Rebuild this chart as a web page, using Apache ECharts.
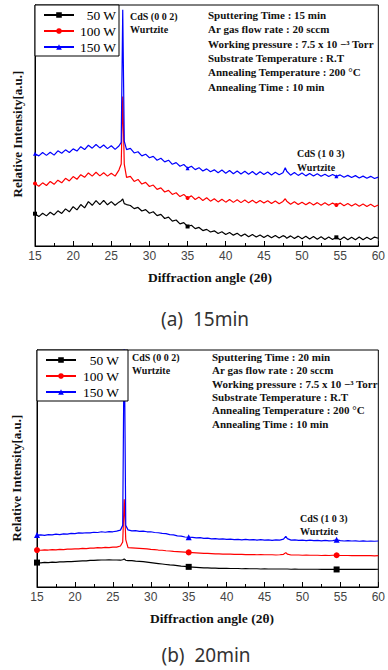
<!DOCTYPE html>
<html><head><meta charset="utf-8">
<script src="https://cdn.jsdelivr.net/npm/echarts@6/dist/echarts.min.js"></script>
<style>html,body{margin:0;padding:0;background:#fff}#c{width:388px;height:670px}</style>
</head><body><div id="c"></div>
<script>
// Diffraction angles (2θ)
const angles = [15,15.5,16,16.5,17,17.5,18,18.5,19,19.5,20,20.5,21,21.5,22,22.5,23,23.5,24,24.5,25,25.5,26,
  26.3,26.5,26.7,
  27,27.5,28,28.5,29,29.5,30,30.5,31,31.5,32,32.5,33,33.5,34,34.5,35,35.5,36,36.5,37,37.5,38,38.5,39,39.5,40,40.5,41,41.5,42,42.5,43,43.5,44,44.5,45,45.5,46,46.5,47,47.5,
  47.8,
  48,48.5,49,49.5,50,50.5,51,51.5,52,52.5,53,53.5,54,54.5,55,55.5,56,56.5,57,57.5,58,58.5,59,59.5,60];

// (a) 15 min — relative intensity (a.u.)
const a15_50W = [13.4,12.2,13.6,12.5,14.0,12.9,14.6,13.5,15.4,14.2,16.3,15.0,17.2,15.8,18.4,16.9,18.8,17.2,18.9,17.1,18.4,16.9,18.2,
  18.8,19.5,17.6,
  17.2,16.8,15.5,16.0,14.5,15.1,13.6,14.2,12.6,13.1,11.4,12.0,10.3,10.8,9.2,9.7,8.1,8.6,7.2,7.7,6.4,6.9,5.8,6.3,5.2,5.9,4.8,5.6,4.5,5.3,4.1,5.0,3.8,4.8,3.7,4.6,3.5,4.5,3.4,4.4,3.3,4.3,
  3.9,
  3.2,4.2,3.1,4.1,3.0,4.0,2.9,3.9,2.8,3.8,2.7,3.7,2.7,3.6,2.6,3.7,2.6,3.6,2.6,3.7,2.6,3.6,2.7,3.7,3.2];
const a15_100W = [25.9,24.8,26.2,25.1,26.8,25.6,27.3,26.2,28.1,27.0,28.8,27.7,29.6,28.5,30.3,29.0,30.6,29.1,30.4,29.0,30.2,29.0,31.5,
  34,62,34,
  28.5,28.9,26.8,27.6,25.7,26.4,24.7,25.3,23.5,24.1,22.4,23.1,21.4,22.1,20.5,21.4,19.9,20.8,19.3,20.3,18.9,20.0,18.6,19.6,18.3,19.4,18.2,19.3,18.1,19.2,18.0,19.1,17.9,19.0,17.8,18.9,17.8,18.8,17.6,18.7,17.5,18.5,
  19.6,
  18.6,17.3,18.4,17.2,18.2,17.1,18.1,17.0,18.0,16.9,17.9,16.9,17.8,17.0,17.8,16.7,17.6,16.6,17.5,16.5,17.4,16.4,17.3,16.3,17.0];
const a15_150W = [38.3,37.4,38.8,37.6,38.9,37.7,39.5,38.5,39.9,38.8,40.3,39.4,41.2,40.0,41.8,40.6,42.1,40.7,41.9,40.4,41.6,40.1,41.5,
  43,98,43.5,
  40.0,40.5,38.6,39.1,37.4,38.1,36.6,37.2,35.6,36.4,34.9,35.6,33.9,34.6,33.1,33.8,32.3,33.1,31.7,32.5,31.1,32.0,30.8,31.6,30.4,31.5,30.2,31.3,30.0,31.1,29.9,31.0,29.8,30.9,29.6,30.8,29.7,30.7,29.5,30.6,29.6,30.4,
  32.5,
  31.0,29.4,30.5,29.3,30.3,29.1,30.1,29.0,30.0,28.9,29.8,28.8,29.7,28.9,29.5,28.5,29.3,28.4,29.2,28.2,29.0,28.1,28.9,28.0,28.6];

// (b) 20 min — relative intensity (a.u.)
const b20_50W = [10.3,10.2,10.4,10.3,10.5,10.4,10.6,10.6,10.7,10.7,10.8,10.9,11.0,11.0,11.2,11.2,11.3,11.4,11.4,11.5,11.4,11.4,11.3,
  11.5,11.8,11.3,
  11.1,11.1,10.9,10.8,10.7,10.5,10.3,10.1,9.9,9.7,9.5,9.3,9.2,9.0,8.8,8.7,8.5,8.4,8.3,8.2,8.1,8.1,8.0,8.0,7.9,7.9,7.9,7.8,7.8,7.8,7.7,7.8,7.7,7.7,7.7,7.6,7.7,7.6,7.6,7.6,7.6,7.6,
  7.6,
  7.6,7.5,7.6,7.5,7.5,7.5,7.5,7.5,7.5,7.4,7.5,7.4,7.5,7.4,7.5,7.4,7.4,7.4,7.5,7.4,7.4,7.4,7.5,7.4,7.5];
const b20_100W = [15.6,15.5,15.7,15.6,15.8,15.7,15.9,15.8,16.0,16.0,16.1,16.1,16.3,16.2,16.4,16.4,16.6,16.5,16.7,16.6,16.8,16.8,17.3,
  19,37,20,
  16.6,16.5,16.4,16.3,16.2,16.1,15.9,15.8,15.6,15.5,15.3,15.2,15.0,14.9,14.8,14.7,14.6,14.5,14.4,14.3,14.2,14.2,14.1,14.0,14.0,13.9,13.9,13.9,13.8,13.8,13.8,13.7,13.7,13.7,13.6,13.7,13.6,13.6,13.6,13.5,13.6,13.8,
  14.5,
  13.9,13.5,13.5,13.5,13.4,13.5,13.4,13.4,13.4,13.3,13.4,13.3,13.4,13.4,13.3,13.3,13.3,13.2,13.3,13.2,13.2,13.2,13.2,13.1,13.2];
const b20_150W = [21.9,22.0,21.8,22.1,22.0,22.3,22.1,22.4,22.3,22.6,22.5,22.8,22.7,22.9,22.8,23.1,23.0,23.3,23.1,23.4,23.3,23.6,24.0,
  26,110,26,
  24.1,23.7,23.8,23.5,23.6,23.3,23.3,23.0,22.9,22.6,22.5,22.1,22.0,21.6,21.5,21.1,21.0,20.9,20.7,20.8,20.5,20.6,20.3,20.4,20.2,20.3,20.1,20.2,20.0,20.1,19.9,20.1,19.9,20.0,19.8,20.0,19.8,19.9,19.7,19.9,19.8,20.2,
  21.4,
  20.4,19.8,19.9,19.7,19.8,19.6,19.8,19.6,19.7,19.5,19.7,19.5,19.6,19.9,19.6,19.4,19.6,19.4,19.5,19.3,19.5,19.3,19.4,19.3,19.4];

const seriesNames = ['50 W', '100 W', '150 W'];
const markerAngles = [15, 35, 54.5];
const infoA = ['Sputtering Time : 15 min', 'Ar gas flow rate : 20 sccm', 'Working pressure : 7.5 x 10 \u2212\u00b3 Torr',
  'Substrate Temperature : R.T', 'Annealing Temperature : 200 \u00b0C', 'Annealing Time : 10 min'];
const infoB = ['Sputtering Time : 20 min', 'Ar gas flow rate : 20 sccm', 'Working pressure : 7.5 x 10 \u2212\u00b3 Torr',
  'Substrate Temperature : R.T', 'Annealing Temperature : 200 \u00b0C', 'Annealing Time : 10 min'];
const peak1 = ['CdS (0 0 2)', 'Wurtzite'];
const peak2 = ['CdS (1 0 3)', 'Wurtzite'];
const xTitle = 'Diffraction angle (2\u03b8)';
const yTitle = 'Relative Intensity[a.u.]';
const captions = ['(a)  15min', '(b)  20min'];

const colors = ['#000000', '#ff0000', '#0000ff'];
const symbols = ['rect', 'circle', 'triangle'];
const SERIF = '"Liberation Serif","Times New Roman",serif';

function build(ys) {
  return angles.map((a, i) => markerAngles.includes(a) ? { value: [a, ys[i]] } : { value: [a, ys[i]], symbol: 'none' });
}

const chart = echarts.init(document.getElementById('c'), null, { renderer: 'svg' });

const grids = [
  { left: 35, top: 5, width: 350, height: 241 },
  { left: 37, top: 350, width: 349, height: 237 }
];

function xAxis(gi) {
  return {
    type: 'value', gridIndex: gi, min: 15, max: 60, interval: 5,
    axisLine: { show: true, lineStyle: { color: '#000', width: 1 } },
    axisTick: { show: true, inside: true, length: 5, lineStyle: { color: '#000' } },
    minorTick: { show: true, splitNumber: 2, length: 3, lineStyle: { color: '#000' } },
    axisLabel: { margin: 4, fontSize: 12, color: '#444', fontFamily: '"Liberation Sans",Arial,sans-serif' },
    splitLine: { show: false }
  };
}
function yAxis(gi) {
  return {
    type: 'value', gridIndex: gi, min: 0, max: 100,
    axisLine: { show: true, lineStyle: { color: '#000' } },
    axisTick: { show: false }, axisLabel: { show: false }, splitLine: { show: false }
  };
}

const dataSets = [[a15_50W, a15_100W, a15_150W], [b20_50W, b20_100W, b20_150W]];
const series = [];
dataSets.forEach((set, gi) => {
  set.forEach((ys, si) => {
    series.push({
      type: 'line', name: seriesNames[si], xAxisIndex: gi, yAxisIndex: gi,
      data: build(ys), symbol: symbols[si], symbolSize: gi === 0 ? 4 : 6,
      showAllSymbol: true, clip: true,
      lineStyle: { width: gi === 0 ? 1.2 : 1.2, color: colors[si] },
      itemStyle: { color: colors[si] },
      emphasis: { disabled: true }
    });
  });
});

function legend(left, top, textW, padRight) {
  return {
    left: left, top: top, orient: 'vertical',
    data: seriesNames,
    itemWidth: 30, itemHeight: 7, itemGap: 2,
    padding: [3, padRight, 2, 8],
    borderColor: '#000', borderWidth: 1, backgroundColor: '#fff',
    formatter: '{r|{name}}',
    textStyle: {
      rich: { r: { width: textW, align: 'right', fontFamily: SERIF, fontSize: 13.5, lineHeight: 14, color: '#000' } }
    },
    selectedMode: false
  };
}

const graphic = [];
function txt(x, y, text, font) {
  graphic.push({
    type: 'text', x: x, y: y,
    style: { text: text, font: font, fill: '#111', align: 'left', verticalAlign: 'middle' }
  });
}
const infoFont = 'bold 11px ' + SERIF;
infoA.forEach((t, i) => txt(208, 15 + i * 14.3, t, infoFont));
infoB.forEach((t, i) => txt(212, 357 + i * 13.3, t, infoFont));
const peakFont = 'bold 10px ' + SERIF;
txt(130, 16, peak1[0], peakFont); txt(130, 29, peak1[1], peakFont);
txt(132, 357, peak1[0], peakFont); txt(132, 370, peak1[1], peakFont);
txt(297, 153, peak2[0], peakFont); txt(297, 167, peak2[1], peakFont);
txt(300, 518, peak2[0], peakFont); txt(300, 531, peak2[1], peakFont);
const titleFont = 'bold 13.5px ' + SERIF;
graphic.push({ type: 'text', x: 210, y: 277, style: { text: xTitle, font: titleFont, fill: '#111', align: 'center', verticalAlign: 'middle' } });
graphic.push({ type: 'text', x: 212, y: 618, style: { text: xTitle, font: titleFont, fill: '#111', align: 'center', verticalAlign: 'middle' } });
graphic.push({ type: 'text', x: 17, y: 134, rotation: Math.PI / 2, style: { text: yTitle, font: 'bold 13px ' + SERIF, fill: '#111', align: 'center', verticalAlign: 'middle' } });
graphic.push({ type: 'text', x: 16, y: 478, rotation: Math.PI / 2, style: { text: yTitle, font: 'bold 13px ' + SERIF, fill: '#111', align: 'center', verticalAlign: 'middle' } });
const capFont = '19px "Noto Sans","Noto Sans CJK KR",sans-serif';
graphic.push({ type: 'text', x: 205, y: 319, style: { text: captions[0], font: capFont, fill: '#333', align: 'center', verticalAlign: 'middle' } });
graphic.push({ type: 'text', x: 206, y: 655, style: { text: captions[1], font: capFont, fill: '#333', align: 'center', verticalAlign: 'middle' } });

chart.setOption({
  animation: false,
  backgroundColor: '#fff',
  grid: grids.map(g => Object.assign({ show: true, borderColor: '#000', borderWidth: 1, backgroundColor: 'transparent' }, g)),
  xAxis: [xAxis(0), xAxis(1)],
  yAxis: [yAxis(0), yAxis(1)],
  legend: [legend(35, 5, 37, 3), legend(37, 350, 38, 9)],
  series: series,
  graphic: graphic
});
</script>
</body></html>
